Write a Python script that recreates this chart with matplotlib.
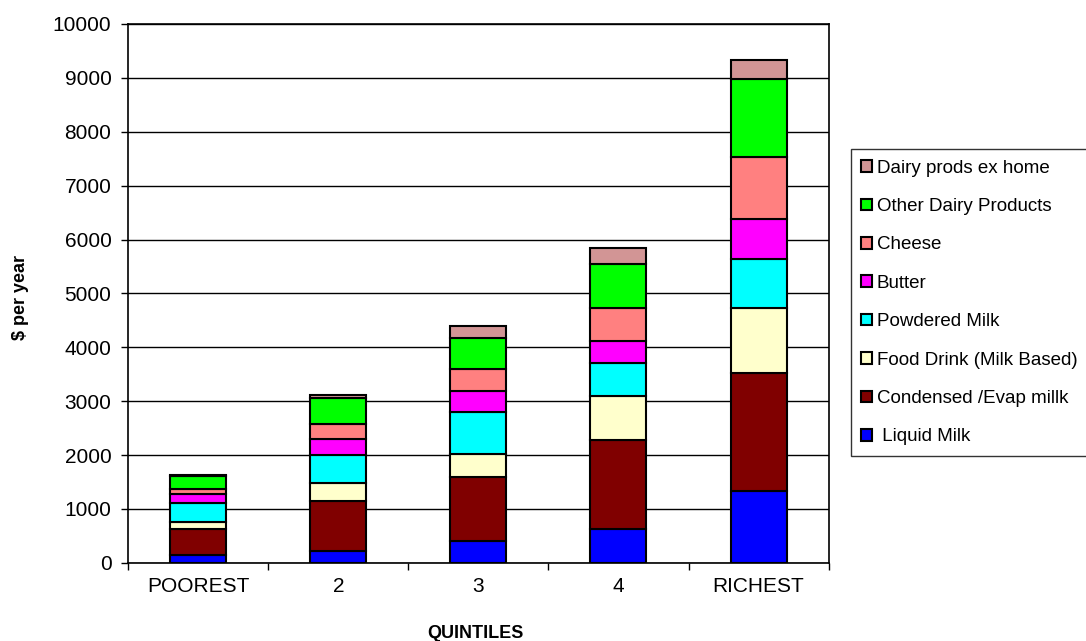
import matplotlib
matplotlib.use("Agg")
import matplotlib.pyplot as plt
import numpy as np

plt.rcParams['font.family'] = ['Liberation Sans', 'DejaVu Sans']

categories = ["POOREST", "2", "3", "4", "RICHEST"]
series_names = [" Liquid Milk", "Condensed /Evap millk", "Food Drink (Milk Based)",
                "Powdered Milk", "Butter", "Cheese", "Other Dairy Products",
                "Dairy prods ex home"]
liquid_milk = [136, 223, 396, 624, 1328]
condensed = [490, 918, 1205, 1663, 2197]
food_drink = [130, 347, 420, 816, 1200]
powdered = [348, 521, 785, 611, 920]
butter = [173, 285, 383, 408, 741]
cheese = [87, 285, 408, 612, 1149]
other_dairy = [253, 484, 575, 810, 1450]
dairy_ex_home = [20, 43, 216, 296, 338]
series_values = [liquid_milk, condensed, food_drink, powdered, butter,
                 cheese, other_dairy, dairy_ex_home]
colors = ["#0000FF", "#800000", "#FFFFCC", "#00FFFF", "#FF00FF",
          "#FF8080", "#00FF00", "#D29595"]

fig = plt.figure(figsize=(10.86, 6.41), dpi=100)
ax = fig.add_axes([0.118, 0.122, 0.645, 0.8406])

x = np.arange(len(categories))
bottom = np.zeros(len(categories))
handles = []
for name, vals, c in zip(series_names, series_values, colors):
    h = ax.bar(x, vals, 0.4, bottom=bottom, color=c, edgecolor="black",
               linewidth=1.5, label=name, zorder=3)
    handles.append(h)
    bottom += np.array(vals)

ax.set_xlim(-0.5, len(categories) - 0.5)
ax.set_ylim(0, 10000)
ax.set_yticks(np.arange(0, 10001, 1000))
ax.yaxis.grid(True, color="black", linewidth=1, zorder=0)
ax.set_axisbelow(True)
ax.set_xticks(x)
ax.set_xticklabels(categories, fontsize=15)
ax.tick_params(axis='x', length=0, pad=10)
ax.set_xticks(np.arange(-0.5, len(categories), 1), minor=True)
ax.tick_params(axis='x', which='minor', length=5, direction='out', width=1)
ax.tick_params(axis='y', labelsize=15, length=5, direction='out', width=1, pad=7)
for s in ax.spines.values():
    s.set_linewidth(1.2)
    s.set_color("black")

ax.set_ylabel("$ per year", fontsize=13, fontweight="bold")
ax.yaxis.set_label_coords(-0.141, 0.4926)
ax.set_xlabel("QUINTILES", fontsize=13, fontweight="bold")
ax.xaxis.set_label_coords(0.496, -0.115)

leg = fig.legend(handles[::-1], series_names[::-1], loc="center left",
                 bbox_to_anchor=(0.7836, 0.528), fontsize=13.5,
                 handlelength=0.57, handleheight=0.57, handletextpad=0.25,
                 labelspacing=1.14, borderpad=0.55, borderaxespad=0,
                 fancybox=False, frameon=True, edgecolor="black")
leg.get_frame().set_linewidth(1.0)

fig.savefig("out.png", dpi=100)
